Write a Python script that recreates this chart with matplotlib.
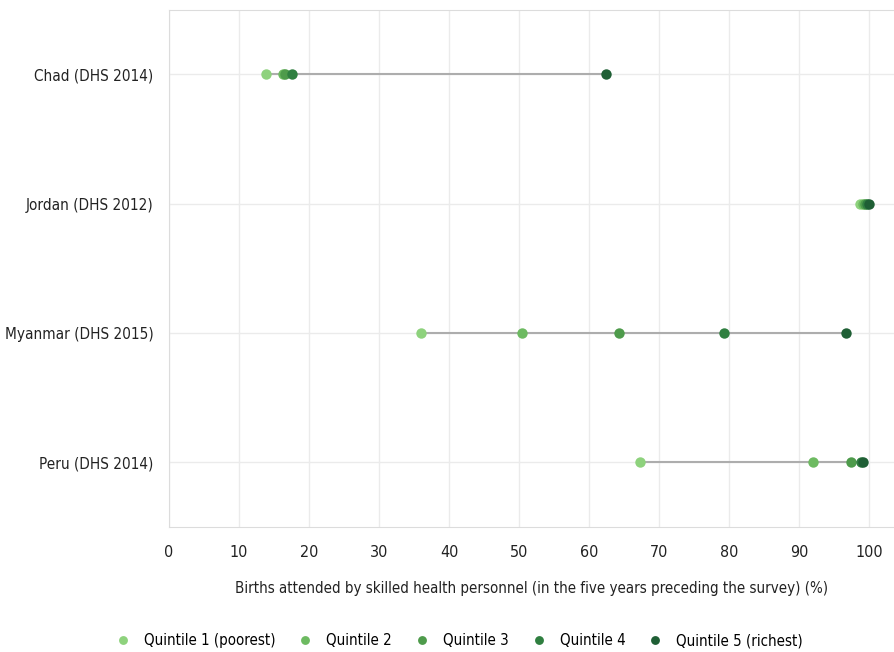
import matplotlib.pyplot as plt
from matplotlib import font_manager

names = {f.name for f in font_manager.fontManager.ttflist}
narrow = 'Liberation Sans Narrow' if 'Liberation Sans Narrow' in names else 'DejaVu Sans'
plt.rcParams['font.family'] = [narrow, 'DejaVu Sans']
plt.rcParams['font.stretch'] = 'condensed'

countries = ['Chad (DHS 2014)', 'Jordan (DHS 2012)', 'Myanmar (DHS 2015)', 'Peru (DHS 2014)']
quintiles = ['Quintile 1 (poorest)', 'Quintile 2', 'Quintile 3', 'Quintile 4', 'Quintile 5 (richest)']
q1 = [13.8, 98.6, 36.0, 67.3]
q2 = [16.3, 99.1, 50.4, 92.0]
q3 = [16.6, 99.4, 64.3, 97.4]
q4 = [17.6, 99.7, 79.2, 98.8]
q5 = [62.4, 99.9, 96.6, 99.1]
colors = ['#8ed27d', '#6dba61', '#4e9b4b', '#2f7f40', '#1f5f35']

fig, ax = plt.subplots(figsize=(8.94, 6.52), dpi=100)
fig.subplots_adjust(left=0.189, right=1.0, top=0.985, bottom=0.192)

series = [q1, q2, q3, q4, q5]
ypos = list(range(len(countries)))
for i, y in enumerate(ypos):
    vals = [s[i] for s in series]
    ax.plot([min(vals), max(vals)], [y, y], color='#adadad', lw=1.5, zorder=2)
for s, c, lab in zip(series, colors, quintiles):
    ax.plot(s, ypos, 'o', color=c, ms=7.5, mec='none', label=lab, zorder=3)

ax.set_xlim(0, 103.5)
ax.set_ylim(3.5, -0.5)
ax.set_xticks(range(0, 101, 10))
ax.set_yticks(ypos)
ax.set_yticklabels(countries)
ax.grid(True, color='#ebebeb', lw=1)
ax.set_axisbelow(True)
for sp in ['top', 'left', 'bottom']:
    ax.spines[sp].set_color('#dcdcdc')
ax.spines['right'].set_visible(False)
ax.tick_params(axis='x', length=0, labelsize=11.5, colors='#222222', pad=13)
ax.tick_params(axis='y', length=0, labelsize=11, colors='#222222', pad=11)
ax.set_xlabel('Births attended by skilled health personnel (in the five years preceding the survey) (%)',
              fontsize=10.8, color='#222222', labelpad=15)

ax.legend(loc='upper center', bbox_to_anchor=(0.395, -0.18), ncol=5, frameon=False,
          fontsize=10.8, handletextpad=0.4, columnspacing=1.0, markerscale=0.85)

plt.savefig('out.png')
